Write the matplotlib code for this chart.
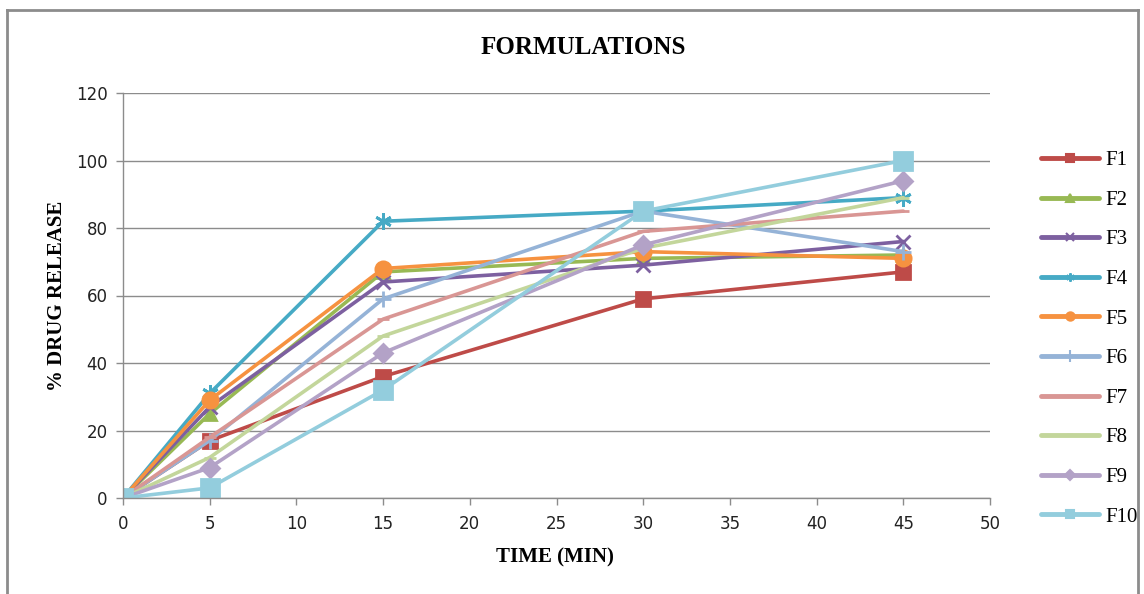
import matplotlib
matplotlib.use("Agg")
import matplotlib.pyplot as plt
from matplotlib.lines import Line2D

time_min = [0, 5, 15, 30, 45]
series_names = ["F1", "F2", "F3", "F4", "F5", "F6", "F7", "F8", "F9", "F10"]
F1 = [0, 17, 36, 59, 67]
F2 = [0, 25, 67, 71, 72]
F3 = [0, 27, 64, 69, 76]
F4 = [0, 31, 82, 85, 89]
F5 = [0, 29, 68, 73, 71]
F6 = [0, 17, 59, 85, 73]
F7 = [0, 18, 53, 79, 85]
F8 = [0, 12, 48, 74, 89]
F9 = [0, 9, 43, 75, 94]
F10 = [0, 3, 32, 85, 100]
values = [F1, F2, F3, F4, F5, F6, F7, F8, F9, F10]
x_ticks = [0, 5, 10, 15, 20, 25, 30, 35, 40, 45, 50]
y_ticks = [0, 20, 40, 60, 80, 100, 120]

colors = ["#BE4B48", "#98B954", "#7D60A0", "#46AAC5", "#F69240",
          "#95B3D7", "#D99694", "#C3D69B", "#B3A2C7", "#93CDDD"]
markers = ["s", "^", "x", (6, 2, 0), "o", "+", "_", "_", "D", "s"]
msizes = [10, 9, 10, 12, 11, 12, 9, 9, 9, 13]
lgd_msizes = [6, 6, 6, 6, 6, 8, 5, 5, 5, 6]

fig = plt.figure(figsize=(11.44, 5.94), dpi=100)
ax = fig.add_axes([123/1144, 1 - 498/594, 867/1144, 405/594])

for name, v, c, m, ms in zip(series_names, values, colors, markers, msizes):
    ax.plot(time_min, v, color=c, lw=2.6, marker=m, markersize=ms,
            markeredgecolor=c, markerfacecolor=c, markeredgewidth=2,
            label=name, solid_capstyle="round", solid_joinstyle="round")

ax.set_xlim(0, 50)
ax.set_ylim(0, 120)
ax.set_xticks(x_ticks)
ax.set_yticks(y_ticks)
ax.yaxis.grid(True, color="#8C8C8C", lw=1)
ax.set_axisbelow(True)
for s in ["top", "right"]:
    ax.spines[s].set_visible(False)
for s in ["left", "bottom"]:
    ax.spines[s].set_color("#8C8C8C")
    ax.spines[s].set_linewidth(1)
ax.tick_params(axis="both", colors="#8C8C8C", labelcolor="#222222",
               labelsize=12, length=5, width=1, direction="out")
for lab in ax.get_xticklabels() + ax.get_yticklabels():
    lab.set_fontfamily("DejaVu Sans")
ax.tick_params(axis="x", pad=7)
ax.tick_params(axis="y", pad=6)

fig.text(583/1144, 1 - 47/594, "FORMULATIONS", ha="center", va="center",
         fontfamily="Liberation Serif", fontweight="bold", fontsize=18)
fig.text(555/1144, 1 - 557/594, "TIME (MIN)", ha="center", va="center",
         fontfamily="Liberation Serif", fontweight="bold", fontsize=15)
fig.text(57/1144, 1 - 296/594, "% DRUG RELEASE", ha="center", va="center",
         rotation=90, fontfamily="Liberation Serif", fontweight="bold", fontsize=15)

handles = [Line2D([0], [0], color=c, lw=3.5, marker=m, markersize=ms,
                  markeredgecolor=c, markerfacecolor=c, markeredgewidth=1.5,
                  solid_capstyle="round")
           for c, m, ms in zip(colors, markers, lgd_msizes)]
leg = fig.legend(handles, series_names, loc="upper left",
                 bbox_to_anchor=(1022/1144, 1 - 132/594), frameon=False,
                 prop={"family": "Liberation Serif", "size": 15},
                 handlelength=2.8, labelspacing=0.96, handletextpad=0.3)

# chart area border
border = dict(color="#8C8C8C", lw=2, transform=fig.transFigure)
fig.add_artist(Line2D([7/1144, 7/1144], [0, 1 - 10/594], **border))
fig.add_artist(Line2D([7/1144, 1138/1144], [1 - 10/594, 1 - 10/594], **border))
fig.add_artist(Line2D([1138/1144, 1138/1144], [0, 1 - 10/594], **border))

fig.savefig("out.png", dpi=100)
